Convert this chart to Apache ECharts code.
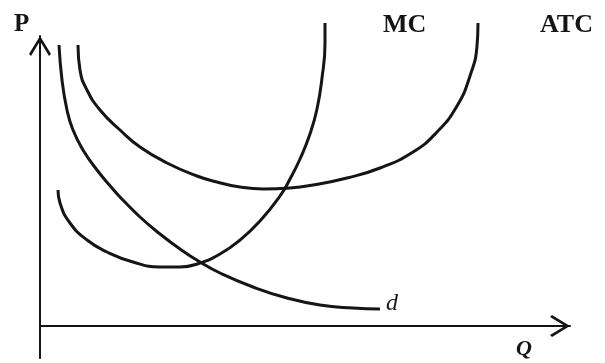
<!DOCTYPE html>
<html>
<head>
<meta charset="utf-8">
<script src="https://cdn.jsdelivr.net/npm/echarts@6/dist/echarts.min.js"></script>
<style>
  html, body { margin: 0; padding: 0; background: #fff; }
  #chart { width: 605px; height: 363px; }
</style>
</head>
<body>
<div id="chart"></div>
<script>
// 读图估计的坐标：Q 为横轴（产量），P 为纵轴（价格/成本），原点在两轴交点
const dQ = [19, 22, 27, 33, 43, 57, 72, 80, 100, 120, 140, 160, 180, 213, 247, 280, 313, 340];
const dP = [281, 246, 216, 196, 176, 156, 138, 129, 109, 92, 77, 64, 53, 39, 28, 21, 18, 17];

const mcQ = [18, 20, 30, 47, 67, 93, 120, 140, 160, 180, 200, 220, 240, 250, 260, 270, 277, 282, 285, 285];
const mcP = [136, 123, 103, 86, 74, 64, 59, 59, 63, 72, 86, 105, 130, 147, 167, 192, 217, 248, 283, 303];

const atcQ = [38, 40, 47, 60, 80, 100, 127, 157, 177, 200, 223, 250, 273, 307, 340, 373, 397, 417, 430, 437, 438];
const atcP = [281, 256, 236, 216, 196, 179, 163, 150, 144, 139, 137, 138, 141, 148, 158, 174, 194, 220, 250, 280, 303];

const curveNames = ['d', 'MC', 'ATC'];
const axisNames = ['P', 'Q'];

const ink = '#151515';
const serif = '"Liberation Serif", "DejaVu Serif", serif';

// 空心箭头（尖端朝上，ECharts 会按轴方向旋转）
const chevron = 'path://M11,0 L22,18 L20,20 L11,5 L2,20 L0,18 Z';

function toPairs(qs, ps) {
  return qs.map((q, i) => [q, ps[i]]);
}

function curve(name, qs, ps, labelOffset, labelStyle) {
  return {
    name: name,
    type: 'line',
    data: toPairs(qs, ps),
    smooth: 0.5,
    showSymbol: false,
    clip: false,
    silent: true,
    lineStyle: { color: ink, width: 3 },
    endLabel: Object.assign({
      show: true,
      formatter: name,
      distance: 6,
      offset: labelOffset,
      color: ink,
      fontFamily: serif
    }, labelStyle)
  };
}

const chart = echarts.init(document.getElementById('chart'));

chart.setOption({
  animation: false,
  backgroundColor: '#fff',
  grid: { left: 40, right: 35, top: 36, bottom: 5, outerBoundsMode: 'none' },
  xAxis: {
    type: 'value',
    min: 0,
    max: 530,
    axisLine: {
      onZero: true,
      lineStyle: { color: ink, width: 2 },
      symbol: ['none', chevron],
      symbolSize: [22, 20],
      symbolOffset: [0, -10]
    },
    axisTick: { show: false },
    axisLabel: { show: false },
    splitLine: { show: false }
  },
  yAxis: {
    type: 'value',
    min: -32,
    max: 290,
    axisLine: {
      show: true,
      lineStyle: { color: ink, width: 2 },
      symbol: ['none', chevron],
      symbolSize: [22, 20],
      symbolOffset: [0, -10]
    },
    axisTick: { show: false },
    axisLabel: { show: false },
    splitLine: { show: false }
  },
  graphic: [
    {
      type: 'text', left: 14, top: 12,
      style: { text: axisNames[0], fill: ink, font: 'bold 25px ' + serif }
    },
    {
      type: 'text', left: 516, top: 338,
      style: { text: axisNames[1], fill: ink, font: 'italic bold 22px ' + serif }
    }
  ],
  series: [
    curve(curveNames[0], dQ, dP, [0, -5], { fontSize: 24, fontStyle: 'italic' }),
    curve(curveNames[1], mcQ, mcP, [52, 2], { fontSize: 26, fontWeight: 'bold' }),
    curve(curveNames[2], atcQ, atcP, [56, 2], { fontSize: 26, fontWeight: 'bold' })
  ]
});
</script>
</body>
</html>
